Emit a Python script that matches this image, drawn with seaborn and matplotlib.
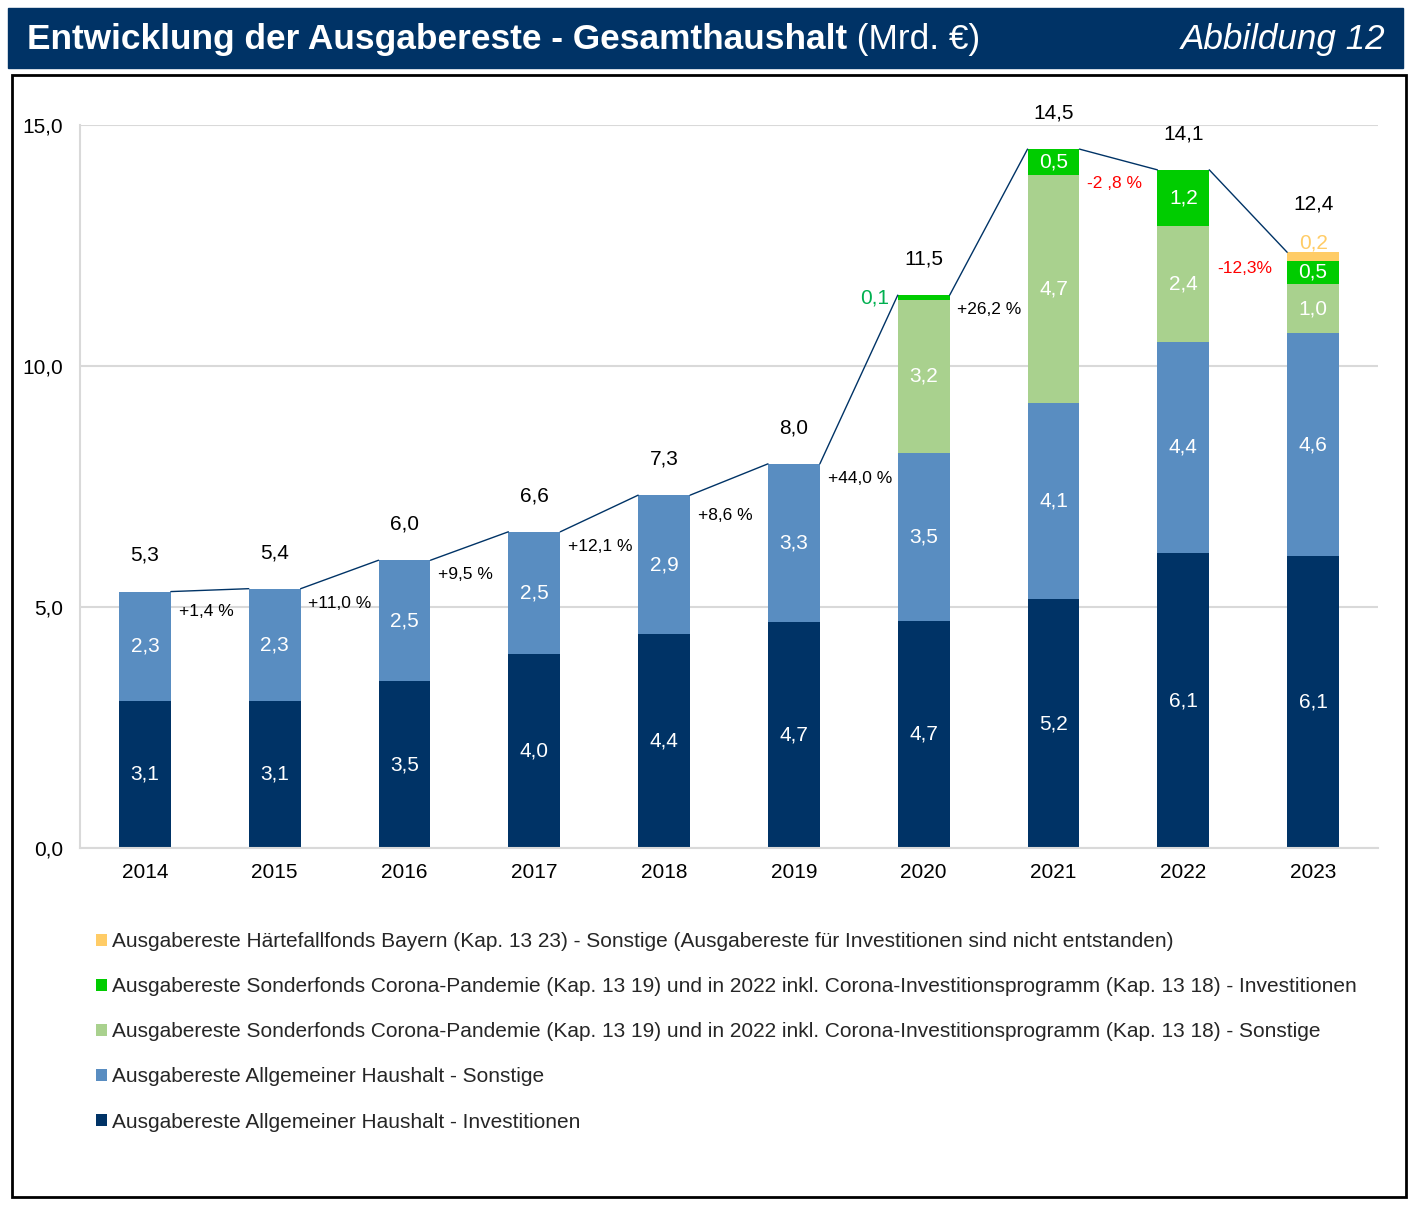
import matplotlib
matplotlib.use("Agg")
import matplotlib.pyplot as plt
from matplotlib.patches import Rectangle, Patch
import seaborn as sns

YEARS = ["2014", "2015", "2016", "2017", "2018", "2019", "2020", "2021", "2022", "2023"]

# Mrd. Euro
ALLG_INVEST = [3.06, 3.06, 3.46, 4.02, 4.44, 4.69, 4.71, 5.16, 6.12, 6.06]
ALLG_SONST = [2.26, 2.32, 2.51, 2.54, 2.88, 3.28, 3.49, 4.08, 4.38, 4.62]
CORONA_SONST = [0, 0, 0, 0, 0, 0, 3.17, 4.72, 2.40, 1.02]
CORONA_INVEST = [0, 0, 0, 0, 0, 0, 0.10, 0.54, 1.17, 0.48]
HAERTE_SONST = [0, 0, 0, 0, 0, 0, 0, 0, 0, 0.18]

CHANGE_LABELS = ["+1,4 %", "+11,0 %", "+9,5 %", "+12,1 %", "+8,6 %",
                 "+44,0 %", "+26,2 %", "-2 ,8 %", "-12,3%"]

LEGEND_LABELS = [
    "Ausgabereste Härtefallfonds Bayern (Kap. 13 23) - Sonstige (Ausgabereste für Investitionen sind nicht entstanden)",
    "Ausgabereste Sonderfonds Corona-Pandemie (Kap. 13 19) und in 2022 inkl. Corona-Investitionsprogramm (Kap. 13 18) - Investitionen",
    "Ausgabereste Sonderfonds Corona-Pandemie (Kap. 13 19) und in 2022 inkl. Corona-Investitionsprogramm (Kap. 13 18) - Sonstige",
    "Ausgabereste Allgemeiner Haushalt - Sonstige",
    "Ausgabereste Allgemeiner Haushalt - Investitionen",
]

NAVY = "#003366"
C_INVEST = "#003366"
C_SONST = "#598DC1"
C_CSONST = "#A9D18E"
C_CINV = "#00CC00"
C_HAERTE = "#FFCC66"

sns.set_theme(style="white")
plt.rcParams["font.family"] = ["Liberation Sans", "DejaVu Sans"]

W, H = 1414, 1206
fig = plt.figure(figsize=(W / 100, H / 100), dpi=100)

# header band and frame
fig.patches.append(Rectangle((8 / W, 1 - 68 / H), 1395 / W, 60 / H,
                             transform=fig.transFigure, color=NAVY, zorder=0))
fig.patches.append(Rectangle((12 / W, 1 - 1197 / H), 1394 / W, 1122 / H,
                             transform=fig.transFigure, fill=False,
                             edgecolor="black", linewidth=2, zorder=0))

TITLE_Y = 1 - 39 / H
t1 = fig.text(27 / W, TITLE_Y, "Entwicklung der Ausgabereste - Gesamthaushalt",
              color="white", fontsize=25.4, fontweight="bold",
              va="center", ha="left")
fig.canvas.draw()
bb = t1.get_window_extent(renderer=fig.canvas.get_renderer())
fig.text(bb.x1 / W, TITLE_Y, " (Mrd. €)", color="white", fontsize=25.4,
         va="center", ha="left")
fig.text(1385 / W, TITLE_Y, "Abbildung 12", color="white", fontsize=25.3,
         fontstyle="italic", va="center", ha="right")

ax = fig.add_axes([80 / W, 1 - 848 / H, 1298 / W, 723 / H])

# stacked bars: draw cumulative sums from the top layer down
layers = [ALLG_INVEST, ALLG_SONST, CORONA_SONST, CORONA_INVEST, HAERTE_SONST]
colors = [C_INVEST, C_SONST, C_CSONST, C_CINV, C_HAERTE]
cums = []
run = [0.0] * len(YEARS)
for layer in layers:
    run = [a + b for a, b in zip(run, layer)]
    cums.append(run)

BAR_W = 0.4
for cum, col in reversed(list(zip(cums, colors))):
    sns.barplot(x=YEARS, y=cum, color=col, saturation=1, width=BAR_W,
                linewidth=0, ax=ax, zorder=2)

totals = cums[-1]

# connecting line between bar tops
for i in range(len(YEARS) - 1):
    ax.plot([i + BAR_W / 2, i + 1 - BAR_W / 2], [totals[i], totals[i + 1]],
            color=NAVY, linewidth=1, zorder=3)

def fmt(v):
    return f"{v:.1f}".replace(".", ",")

LBL = 15
for i in range(len(YEARS)):
    bottom = 0.0
    for layer, cum in zip(layers[:3], cums[:3]):
        v = layer[i]
        if v > 0:
            ax.text(i, bottom + v / 2, fmt(v), ha="center", va="center",
                    color="white", fontsize=LBL, zorder=4)
        bottom = cum[i]
    # corona investitionen
    v = CORONA_INVEST[i]
    if v >= 0.3:
        ax.text(i, bottom + v / 2, fmt(v), ha="center", va="center",
                color="white", fontsize=LBL, zorder=4)
    elif v > 0:
        ax.text(i - BAR_W / 2 - 0.07, bottom + 0.05, fmt(v), ha="right",
                va="center", color="#00B050", fontsize=LBL, zorder=4)
    # haertefallfonds
    v = HAERTE_SONST[i]
    if v > 0:
        ax.text(i, totals[i] + 0.2, fmt(v), ha="center", va="center",
                color=C_HAERTE, fontsize=LBL, zorder=4)
        ax.text(i, totals[i] + 1.0, fmt(totals[i]), ha="center", va="center",
                color="black", fontsize=LBL, zorder=4, clip_on=False)
    else:
        ax.text(i, totals[i] + 0.75, fmt(totals[i]), ha="center", va="center",
                color="black", fontsize=LBL, zorder=4, clip_on=False)

# percentage changes, right of each bar
for i, lab in enumerate(CHANGE_LABELS):
    dy = -0.3
    if i in (0, 4):
        dy = -0.42
    elif i == 7:
        dy = -0.72
    elif i == 8:
        dy = -2.05
    col = "red" if lab.startswith("-") else "black"
    ax.text(i + BAR_W / 2 + 0.06, totals[i] + dy, lab, ha="left", va="center",
            color=col, fontsize=12.5, zorder=4)

ax.set_ylim(0, 15)
ax.set_xlim(-0.5, len(YEARS) - 0.5)
ax.set_yticks([0, 5, 10, 15])
ax.set_yticklabels([fmt(t) for t in [0, 5, 10, 15]])
ax.set_xlabel("")
ax.set_ylabel("")
ax.tick_params(axis="both", length=0, labelsize=15, colors="black")
ax.tick_params(axis="y", pad=12)
ax.tick_params(axis="x", pad=11)
ax.grid(axis="y", color="#D9D9D9", linewidth=1.5, zorder=0)
ax.set_axisbelow(True)
for s in ["top", "right"]:
    ax.spines[s].set_visible(False)
for s in ["left", "bottom"]:
    ax.spines[s].set_color("#D9D9D9")
    ax.spines[s].set_linewidth(1.5)

handles = [Patch(facecolor=c, edgecolor="none") for c in
           [C_HAERTE, C_CINV, C_CSONST, C_SONST, C_INVEST]]
fig.legend(handles, LEGEND_LABELS, loc="upper left",
           bbox_to_anchor=(88 / W, 1 - 924 / H), frameon=False, fontsize=15,
           handlelength=0.5, handleheight=0.5, handletextpad=0.25,
           labelspacing=1.25, borderaxespad=0)

fig.savefig("out.png", dpi=100)
